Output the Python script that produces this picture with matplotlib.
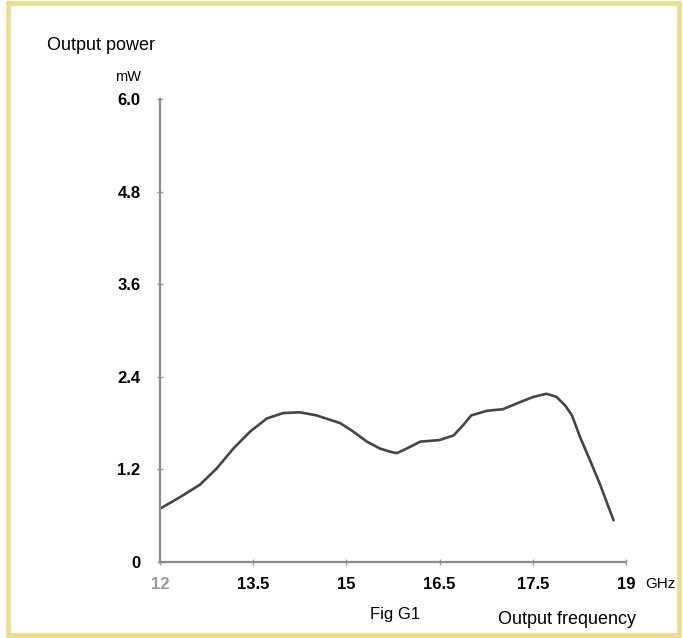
import numpy as np
import matplotlib
matplotlib.use('Agg')
import matplotlib.pyplot as plt
from matplotlib.patches import Rectangle

plt.rcParams['font.family'] = ['Liberation Sans', 'DejaVu Sans']

# tick labels on the frequency axis (evenly spaced on the drawing)
freq_ticks = [12, 13.5, 15, 16.5, 17.5, 19]
power_ticks = [0, 1.2, 2.4, 3.6, 4.8, 6.0]
power_labels = ['0', '1.2', '2.4', '3.6', '4.8', '6.0']

# curve: frequency (GHz) and output power (mW)
freq = [12.0, 12.32, 12.64, 12.91, 13.18, 13.45, 13.72, 13.98, 14.25, 14.52,
        14.90, 15.11, 15.33, 15.54, 15.70, 15.81, 15.97, 16.19, 16.50, 16.65,
        16.75, 16.84, 17.01, 17.18, 17.36, 17.51, 17.72, 17.88, 18.02, 18.13,
        18.26, 18.42, 18.58, 18.80]
power = [0.69, 0.84, 1.00, 1.21, 1.47, 1.69, 1.86, 1.93, 1.94, 1.90,
         1.80, 1.69, 1.56, 1.47, 1.43, 1.41, 1.47, 1.56, 1.58, 1.64,
         1.77, 1.90, 1.96, 1.98, 2.07, 2.14, 2.18, 2.14, 2.03, 1.90,
         1.62, 1.32, 1.01, 0.54]

W, H = 683, 638
fig = plt.figure(figsize=(W/100, H/100), dpi=100)
fig.patch.set_facecolor('white')

# yellow frame round the figure
fig.patches.append(Rectangle((7.5/W, 3.5/H), 671/W, 632/H, transform=fig.transFigure,
                             fill=False, edgecolor='#ecdd8f', linewidth=3.4))

ax = fig.add_axes([160/W, (H-562)/H, (626-160)/W, (562-99)/H])
ax.set_facecolor('none')

# map GHz onto the evenly spaced tick positions
pos = np.interp(freq, freq_ticks, np.arange(len(freq_ticks)))
ax.plot(pos, power, color='#454545', lw=1.9, solid_capstyle='round', solid_joinstyle='round')

ax.set_xlim(0, 5)
ax.set_ylim(0, 6)
for s in ['top', 'right']:
    ax.spines[s].set_visible(False)
for s in ['left', 'bottom']:
    ax.spines[s].set_color('#8c8c8c')
    ax.spines[s].set_linewidth(1.6)

ax.set_xticks(np.arange(len(freq_ticks)))
ax.set_xticklabels([('%g' % f) for f in freq_ticks], fontsize=12, fontweight='bold')
ax.get_xticklabels()[0].set_color('#9a9a9a')
ax.set_yticks(power_ticks)
ax.set_yticklabels(power_labels, fontsize=12, fontweight='bold')
ax.tick_params(axis='both', direction='inout', length=4, width=1, color='#9a9a9a')
ax.tick_params(axis='x', pad=9)
ax.tick_params(axis='y', pad=12)

fig.text(47/W, 1-45/H, 'Output power', fontsize=13, va='center', ha='left')
fig.text(141/W, 1-77/H, 'mW', fontsize=10.5, va='center', ha='right')
fig.text(645/W, 1-584/H, 'GHz', fontsize=11, va='center', ha='left')
fig.text(395/W, 1-615/H, 'Fig G1', fontsize=12, va='center', ha='center')
fig.text(567/W, 1-620/H, 'Output frequency', fontsize=13, va='center', ha='center')

plt.savefig('out.png', dpi=100)
